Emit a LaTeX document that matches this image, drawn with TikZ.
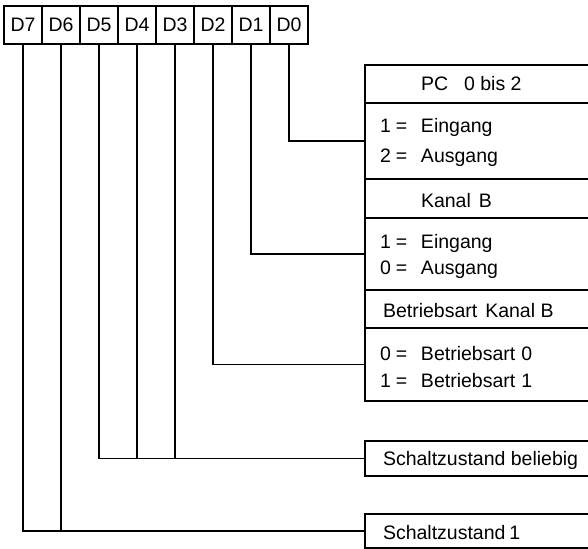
\documentclass[tikz,border=0pt]{standalone}
\usepackage{fontspec}
\setmainfont{Liberation Sans}
\newcommand{\eqline}[2]{\makebox[16pt][l]{#1}\makebox[25pt][l]{=}#2}
\begin{document}
\begin{tikzpicture}[x=1pt,y=-1pt,line width=2pt,
  txt/.style={font=\fontsize{19.5}{21}\selectfont},
  lbl/.style={txt,anchor=base west,inner sep=0pt},
  bit/.style={txt,draw,minimum width=38pt,minimum height=38pt,inner sep=0pt},
  sect/.style={draw,anchor=north west,minimum width=232pt,inner sep=0pt},
  wire/.style={line width=1.7pt}]
\useasboundingbox (0,0) rectangle (588,548);
\clip (0,0) rectangle (588,548);
% bit boxes
\foreach \n [count=\i from 0] in {7,6,5,4,3,2,1,0}
  \node[bit] (b\n) at ({23+38*\i},25) {D\n};
% section boxes
\node[sect,minimum height=38pt] (s1) at (364,64) {};
\node[sect,minimum height=76pt] (s2) at (364,102) {};
\node[sect,minimum height=39pt] (s3) at (364,178) {};
\node[sect,minimum height=72pt] (s4) at (364,217) {};
\node[sect,minimum height=38pt] (s5) at (364,289) {};
\node[sect,minimum height=73pt] (s6) at (364,327) {};
\node[sect,minimum height=35pt] (s7) at (364,440) {};
\node[sect,minimum height=34pt] (s8) at (364,513) {};
% texts
\node[lbl] (t1) at (420,91) {PC\hspace{16pt}0 bis 2};
\node[lbl] (t2) at (379,133) {\eqline{1}{Eingang}};
\node[lbl] (t3) at (379,163) {\eqline{2}{Ausgang}};
\node[lbl] (t4) at (420,207) {Kanal\hspace{8pt}B};
\node[lbl] (t5) at (379,248) {\eqline{1}{Eingang}};
\node[lbl] (t6) at (379,274) {\eqline{0}{Ausgang}};
\node[lbl] (t7) at (382,317) {Betriebsart\hspace{8pt}Kanal B};
\node[lbl] (t8) at (379,360) {\eqline{0}{Betriebsart\hspace{6pt}0}};
\node[lbl] (t9) at (379,387) {\eqline{1}{Betriebsart\hspace{6pt}1}};
\node[lbl] (t10) at (382,465) {Schaltzustand beliebig};
\node[lbl] (t11) at (382,539) {Schaltzustand\hspace{4pt}1};
% connectors
\draw[wire] (b0.south) |- (s2.west);
\draw[wire] (b1.south) |- (s4.west);
\draw[wire] (b2.south) |- (s6.west);
\draw[wire] (b5.south) |- (s7.west);
\draw[wire] (b4.south) -- (b4.south |- s7.west);
\draw[wire] (b3.south) -- (b3.south |- s7.west);
\draw[wire] (b7.south) |- (s8.west);
\draw[wire] (b6.south) -- (b6.south |- s8.west);
\end{tikzpicture}
\end{document}
